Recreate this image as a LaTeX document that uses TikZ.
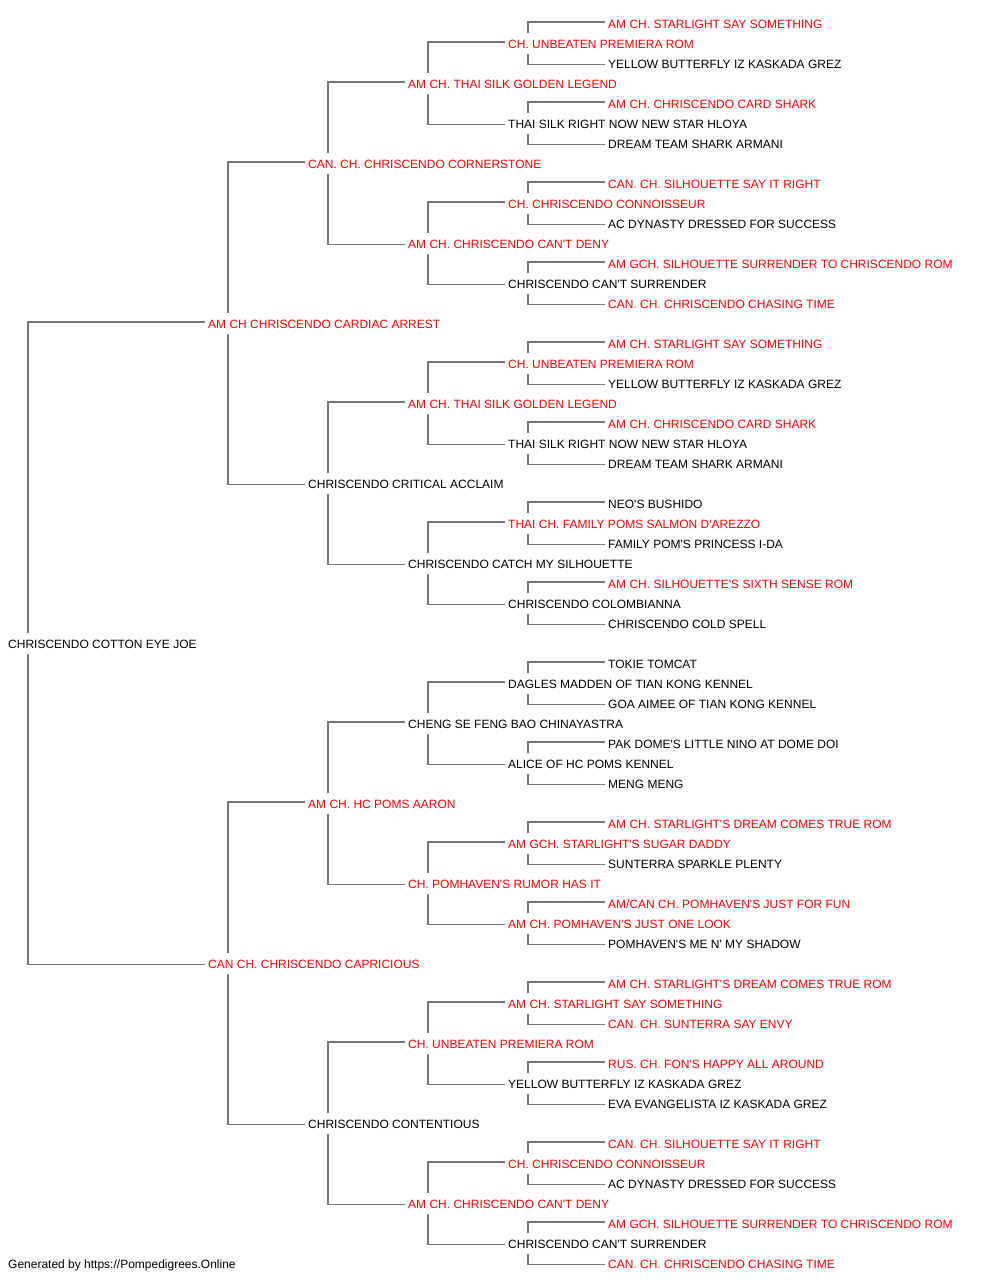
\documentclass[tikz,border=0pt]{standalone}
\usepackage{fontspec}
\newfontfamily\pedfont{Liberation Sans}
\usetikzlibrary{backgrounds}
\definecolor{pedred}{RGB}{255,0,0}
\definecolor{pedline}{RGB}{118,118,118}
\tikzset{
  pn/.style={anchor=west, fill=white, inner xsep=3pt, inner ysep=5.2pt,
    text height=10.6pt, text depth=0pt, font=\pedfont\fontsize{12pt}{14pt}\selectfont, text=black},
  pr/.style={pn, text=pedred},
  conn/.style={draw=pedline, line width=1.5pt}
}
\begin{document}
\begin{tikzpicture}[x=1pt,y=-1pt]
\useasboundingbox (0,0) rectangle (1000,1280);
% generation 5
\node[pr] (n0) at (605,23) {AM CH. STARLIGHT SAY SOMETHING};
\node[pn] (n2) at (605,63) {YELLOW BUTTERFLY IZ KASKADA GREZ};
\node[pr] (n4) at (605,103) {AM CH. CHRISCENDO CARD SHARK};
\node[pn] (n6) at (605,143) {DREAM TEAM SHARK ARMANI};
\node[pr] (n8) at (605,183) {CAN. CH. SILHOUETTE SAY IT RIGHT};
\node[pn] (n10) at (605,223) {AC DYNASTY DRESSED FOR SUCCESS};
\node[pr] (n12) at (605,263) {AM GCH. SILHOUETTE SURRENDER TO CHRISCENDO ROM};
\node[pr] (n14) at (605,303) {CAN. CH. CHRISCENDO CHASING TIME};
\node[pr] (n16) at (605,343) {AM CH. STARLIGHT SAY SOMETHING};
\node[pn] (n18) at (605,383) {YELLOW BUTTERFLY IZ KASKADA GREZ};
\node[pr] (n20) at (605,423) {AM CH. CHRISCENDO CARD SHARK};
\node[pn] (n22) at (605,463) {DREAM TEAM SHARK ARMANI};
\node[pn] (n24) at (605,503) {NEO'S BUSHIDO};
\node[pn] (n26) at (605,543) {FAMILY POM'S PRINCESS I-DA};
\node[pr] (n28) at (605,583) {AM CH. SILHOUETTE'S SIXTH SENSE ROM};
\node[pn] (n30) at (605,623) {CHRISCENDO COLD SPELL};
\node[pn] (n32) at (605,663) {TOKIE TOMCAT};
\node[pn] (n34) at (605,703) {GOA AIMEE OF TIAN KONG KENNEL};
\node[pn] (n36) at (605,743) {PAK DOME'S LITTLE NINO AT DOME DOI};
\node[pn] (n38) at (605,783) {MENG MENG};
\node[pr] (n40) at (605,823) {AM CH. STARLIGHT'S DREAM COMES TRUE ROM};
\node[pn] (n42) at (605,863) {SUNTERRA SPARKLE PLENTY};
\node[pr] (n44) at (605,903) {AM/CAN CH. POMHAVEN'S JUST FOR FUN};
\node[pn] (n46) at (605,943) {POMHAVEN'S ME N' MY SHADOW};
\node[pr] (n48) at (605,983) {AM CH. STARLIGHT'S DREAM COMES TRUE ROM};
\node[pr] (n50) at (605,1023) {CAN. CH. SUNTERRA SAY ENVY};
\node[pr] (n52) at (605,1063) {RUS. CH. FON'S HAPPY ALL AROUND};
\node[pn] (n54) at (605,1103) {EVA EVANGELISTA IZ KASKADA GREZ};
\node[pr] (n56) at (605,1143) {CAN. CH. SILHOUETTE SAY IT RIGHT};
\node[pn] (n58) at (605,1183) {AC DYNASTY DRESSED FOR SUCCESS};
\node[pr] (n60) at (605,1223) {AM GCH. SILHOUETTE SURRENDER TO CHRISCENDO ROM};
\node[pr] (n62) at (605,1263) {CAN. CH. CHRISCENDO CHASING TIME};
% generation 4
\node[pr] (n1) at (505,43) {CH. UNBEATEN PREMIERA ROM};
\node[pn] (n5) at (505,123) {THAI SILK RIGHT NOW NEW STAR HLOYA};
\node[pr] (n9) at (505,203) {CH. CHRISCENDO CONNOISSEUR};
\node[pn] (n13) at (505,283) {CHRISCENDO CAN'T SURRENDER};
\node[pr] (n17) at (505,363) {CH. UNBEATEN PREMIERA ROM};
\node[pn] (n21) at (505,443) {THAI SILK RIGHT NOW NEW STAR HLOYA};
\node[pr] (n25) at (505,523) {THAI CH. FAMILY POMS SALMON D'AREZZO};
\node[pn] (n29) at (505,603) {CHRISCENDO COLOMBIANNA};
\node[pn] (n33) at (505,683) {DAGLES MADDEN OF TIAN KONG KENNEL};
\node[pn] (n37) at (505,763) {ALICE OF HC POMS KENNEL};
\node[pr] (n41) at (505,843) {AM GCH. STARLIGHT'S SUGAR DADDY};
\node[pr] (n45) at (505,923) {AM CH. POMHAVEN'S JUST ONE LOOK};
\node[pr] (n49) at (505,1003) {AM CH. STARLIGHT SAY SOMETHING};
\node[pn] (n53) at (505,1083) {YELLOW BUTTERFLY IZ KASKADA GREZ};
\node[pr] (n57) at (505,1163) {CH. CHRISCENDO CONNOISSEUR};
\node[pn] (n61) at (505,1243) {CHRISCENDO CAN'T SURRENDER};
% generation 3
\node[pr] (n3) at (405,83) {AM CH. THAI SILK GOLDEN LEGEND};
\node[pr] (n11) at (405,243) {AM CH. CHRISCENDO CAN'T DENY};
\node[pr] (n19) at (405,403) {AM CH. THAI SILK GOLDEN LEGEND};
\node[pn] (n27) at (405,563) {CHRISCENDO CATCH MY SILHOUETTE};
\node[pn] (n35) at (405,723) {CHENG SE FENG BAO CHINAYASTRA};
\node[pr] (n43) at (405,883) {CH. POMHAVEN'S RUMOR HAS IT};
\node[pr] (n51) at (405,1043) {CH. UNBEATEN PREMIERA ROM};
\node[pr] (n59) at (405,1203) {AM CH. CHRISCENDO CAN'T DENY};
% generation 2
\node[pr] (n7) at (305,163) {CAN. CH. CHRISCENDO CORNERSTONE};
\node[pn] (n23) at (305,483) {CHRISCENDO CRITICAL ACCLAIM};
\node[pr] (n39) at (305,803) {AM CH. HC POMS AARON};
\node[pn] (n55) at (305,1123) {CHRISCENDO CONTENTIOUS};
% generation 1
\node[pr] (n15) at (205,323) {AM CH CHRISCENDO CARDIAC ARREST};
\node[pr] (n47) at (205,963) {CAN CH. CHRISCENDO CAPRICIOUS};
% root
\node[pn] (n31) at (5,643) {CHRISCENDO COTTON EYE JOE};
% footer
\node[pn] (foot) at (5,1263) {Generated by https://Pompedigrees.Online};
\begin{pgfonlayer}{background}
\fill[white] (0,0) rectangle (1000,1280);
\foreach \p/\h in {31/16, 15/8, 47/8, 7/4, 23/4, 39/4, 55/4,
  3/2, 11/2, 19/2, 27/2, 35/2, 43/2, 51/2, 59/2,
  1/1, 5/1, 9/1, 13/1, 17/1, 21/1, 25/1, 29/1, 33/1, 37/1, 41/1, 45/1, 49/1, 53/1, 57/1, 61/1} {
  \pgfmathtruncatemacro{\s}{\p-\h}
  \pgfmathtruncatemacro{\d}{\p+\h}
  \draw[conn] ([yshift=1pt]n\s.west) -| ([xshift=23pt]n\p.west) |- ([yshift=-1.5pt]n\d.west);
}
\end{pgfonlayer}
\end{tikzpicture}
\end{document}
